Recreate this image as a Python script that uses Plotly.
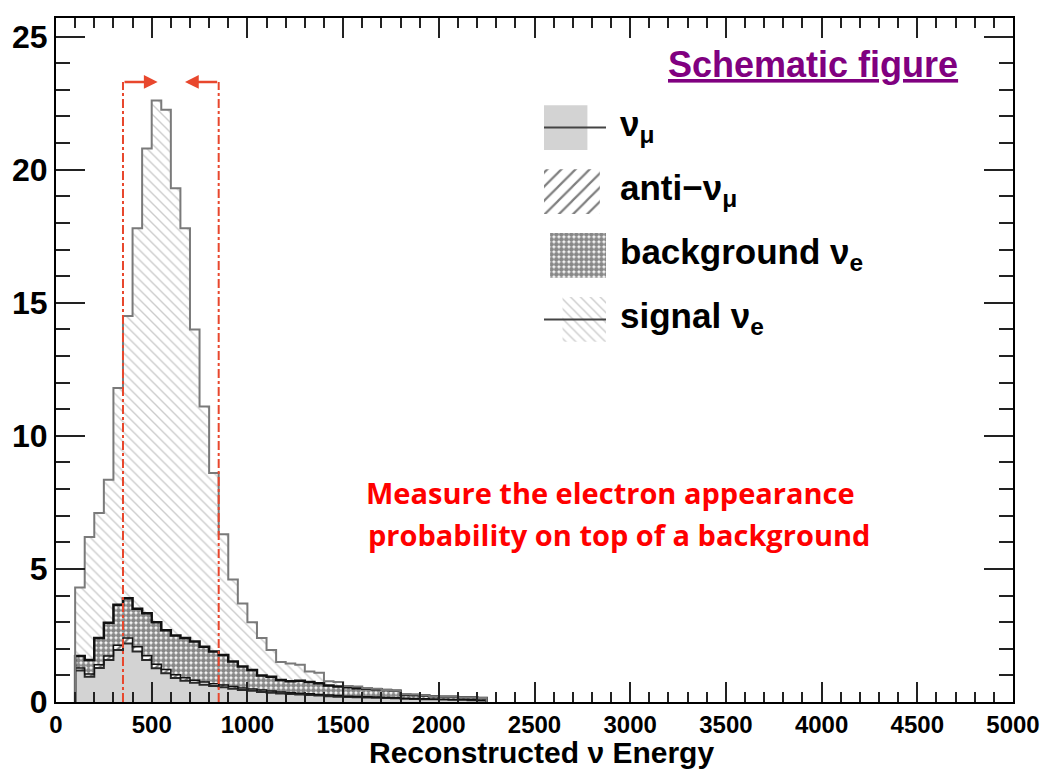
import plotly.graph_objects as go
import numpy as np

# ---------------- data ----------------
bin_width = 50
bin_low = list(range(100, 2250, bin_width))  # lower edges of histogram bins

nu_mu = [1.18, 0.95, 1.28, 1.58, 1.95, 2.20, 1.90, 1.58, 1.27, 1.08, 0.90, 0.80, 0.72, 0.65,
         0.60, 0.55, 0.50, 0.45, 0.42, 0.38, 0.35, 0.32, 0.30, 0.28, 0.26, 0.24, 0.22, 0.20,
         0.19, 0.18, 0.17, 0.16, 0.15, 0.14, 0.12, 0.11, 0.10, 0.10, 0.09, 0.08, 0.08, 0.07, 0.06]
anti_nu_mu = [0.10, 0.10, 0.12, 0.15, 0.18, 0.20, 0.18, 0.16, 0.15, 0.14, 0.12, 0.11, 0.10, 0.10,
              0.09, 0.09, 0.08, 0.08, 0.07, 0.07, 0.06, 0.06, 0.05, 0.05, 0.05, 0.04, 0.04, 0.04,
              0.03, 0.03, 0.03, 0.03, 0.02, 0.02, 0.02, 0.02, 0.02, 0.01, 0.01, 0.01, 0.01, 0.01, 0.01]
background_nue = [0.45, 0.53, 1.00, 1.25, 1.52, 1.50, 1.42, 1.59, 1.58, 1.48, 1.48, 1.49, 1.45, 1.33,
                  1.21, 1.13, 0.94, 0.80, 0.71, 0.55, 0.54, 0.45, 0.43, 0.47, 0.44, 0.42, 0.36, 0.34,
                  0.33, 0.31, 0.30, 0.29, 0.28, 0.26, 0.14, 0.13, 0.12, 0.11, 0.10, 0.11, 0.09, 0.10, 0.08]
signal_nue = [2.57, 4.62, 4.70, 5.37, 8.15, 10.60, 14.30, 17.47, 19.60, 19.55, 16.80, 15.40, 11.73, 9.02,
              6.70, 4.53, 3.08, 2.37, 1.80, 1.40, 1.00, 0.67, 0.67, 0.60, 0.40, 0.40, 0.16, 0.17,
              0.05, 0.06, 0.02, 0.02, 0.00, 0.00, 0.02, 0.02, 0.01, 0.00, 0.00, 0.00, 0.00, 0.00, 0.00]

cut_low, cut_high = 350, 850          # energy window (red dash-dot lines)
arrow_level = 23.3                    # height of the window arrows
arrow_tips = [531, 674]

x_ticks = list(range(0, 5001, 500))
y_ticks = [0, 5, 10, 15, 20, 25]

legend_labels = ["ν<sub>μ</sub>", "anti−ν<sub>μ</sub>", "background ν<sub>e</sub>", "signal ν<sub>e</sub>"]

# ---------------- styles ----------------
RED = "#e8472d"
TICKFONT = "Liberation Sans, Arial, sans-serif"

styles = [
    dict(fill="#d3d3d3", pattern=None, line="#2a2a2a", lw=2.0),
    dict(fill="white", pattern=dict(shape="/", fgcolor="#000000", bgcolor="white", size=10, solidity=0.22),
         line="#111111", lw=1.5),
    dict(fill="white", pattern=dict(shape=".", fgcolor="#111111", bgcolor="white", size=5, solidity=0.75),
         line="#111111", lw=2.5),
    dict(fill="white", pattern=dict(shape="\\", fgcolor="#999999", bgcolor="white", size=7, solidity=0.2),
         line="#7a7a7a", lw=2.0),
]

components = [nu_mu, anti_nu_mu, background_nue, signal_nue]
stack = np.cumsum(np.array(components), axis=0)

edges = bin_low + [bin_low[-1] + bin_width]
x_step = [edges[0]] + edges[:-1] + [edges[-1], edges[-1]]

fig = go.Figure()

for k, (vals, st) in enumerate(zip(stack, styles)):
    v = [float(a) for a in vals]
    y_step = [0.0] + v + [v[-1], 0.0]
    kw = dict(
        x=x_step, y=y_step, mode="lines", line=dict(shape="hv", color=st["line"], width=st["lw"]),
        fill="tozeroy" if k == 0 else "tonexty", fillcolor=st["fill"], showlegend=False, hoverinfo="skip",
    )
    if st["pattern"] is not None:
        kw["fillpattern"] = st["pattern"]
    fig.add_trace(go.Scatter(**kw))

# ---------- custom legend (swatches on an auxiliary axis) ----------
n_rows = len(legend_labels)
for i, (lab, st) in enumerate(zip(legend_labels, styles)):
    row = n_rows - 1 - i
    marker = dict(color=st["fill"], line=dict(width=0))
    if st["pattern"] is not None:
        marker["pattern"] = st["pattern"]
    fig.add_trace(go.Bar(x=[0], y=[0.7], base=[row - 0.35], width=[1], marker=marker,
                         xaxis="x2", yaxis="y2", showlegend=False, hoverinfo="skip"))
    if i in (0, 3):
        fig.add_trace(go.Scatter(x=[-0.5, 0.5], y=[row, row], mode="lines",
                                 line=dict(color="#444444", width=2), xaxis="x2", yaxis="y2",
                                 showlegend=False, hoverinfo="skip"))
    fig.add_annotation(x=0.5872, xref="paper", y=row + 0.02, yref="y2", text=lab, showarrow=False,
                       xanchor="left", yanchor="middle",
                       font=dict(family=TICKFONT, size=35, color="black", weight="bold"))

# ---------- window lines and arrows ----------
for xc in (cut_low, cut_high):
    fig.add_shape(type="line", x0=xc, x1=xc, y0=0, y1=arrow_level, xref="x", yref="y",
                  line=dict(color=RED, width=2, dash="dashdot"))
for xc, tip in zip((cut_low, cut_high), arrow_tips):
    fig.add_annotation(x=tip, y=arrow_level, ax=xc, ay=arrow_level, axref="x", ayref="y",
                       xref="x", yref="y", text="", showarrow=True, arrowhead=2, arrowsize=1.1,
                       arrowwidth=2.5, arrowcolor=RED)

# ---------- text ----------
fig.add_annotation(x=0.7905, y=0.9327, xref="paper", yref="paper", showarrow=False,
                   text="<u>Schematic figure</u>", xanchor="center", yanchor="middle",
                   font=dict(family=TICKFONT, size=36, color="#800080", weight="bold"))
fig.add_annotation(x=0.5797, y=0.3056, xref="paper", yref="paper", showarrow=False,
                   text="Measure the electron appearance", xanchor="center", yanchor="middle",
                   font=dict(family="Open Sans, Lato, sans-serif", size=29, color="#ff0000", weight="bold"))
fig.add_annotation(x=0.5887, y=0.2442, xref="paper", yref="paper", showarrow=False,
                   text="probability on top of a background", xanchor="center", yanchor="middle",
                   font=dict(family="Open Sans, Lato, sans-serif", size=29, color="#ff0000", weight="bold"))
fig.add_annotation(x=0.5077, y=-0.0731, xref="paper", yref="paper", showarrow=False,
                   text="Reconstructed ν Energy", xanchor="center", yanchor="middle",
                   font=dict(family=TICKFONT, size=30, color="black", weight="bold"))

axis_common = dict(showgrid=False, zeroline=False, showline=True, linecolor="black", linewidth=2,
                   mirror="allticks", ticks="inside", tickcolor="#222222", tickwidth=1.5)

fig.update_layout(
    width=1052, height=771,
    margin=dict(l=53, r=30, t=18, b=69),
    paper_bgcolor="white", plot_bgcolor="white",
    showlegend=False,
    xaxis=dict(range=[0, 5000], tickvals=x_ticks, ticklen=20,
               tickfont=dict(family=TICKFONT, size=24, color="black", weight="bold"),
               minor=dict(dtick=100, ticklen=10, ticks="inside", tickcolor="#222222", tickwidth=1.5),
               **axis_common),
    yaxis=dict(range=[0, 25.7], tickvals=y_ticks, ticklen=29,
               tickfont=dict(family=TICKFONT, size=32, color="black", weight="bold"),
               minor=dict(dtick=1, ticklen=14, ticks="inside", tickcolor="#222222", tickwidth=1.5),
               **axis_common),
    xaxis2=dict(domain=[0.5098, 0.5748], range=[-0.5, 0.5], anchor="y2", visible=False, fixedrange=True),
    yaxis2=dict(domain=[0.5219, 0.8772], range=[-0.4, 3.4], anchor="x2", visible=False, fixedrange=True),
)

fig.write_html("out.html")
